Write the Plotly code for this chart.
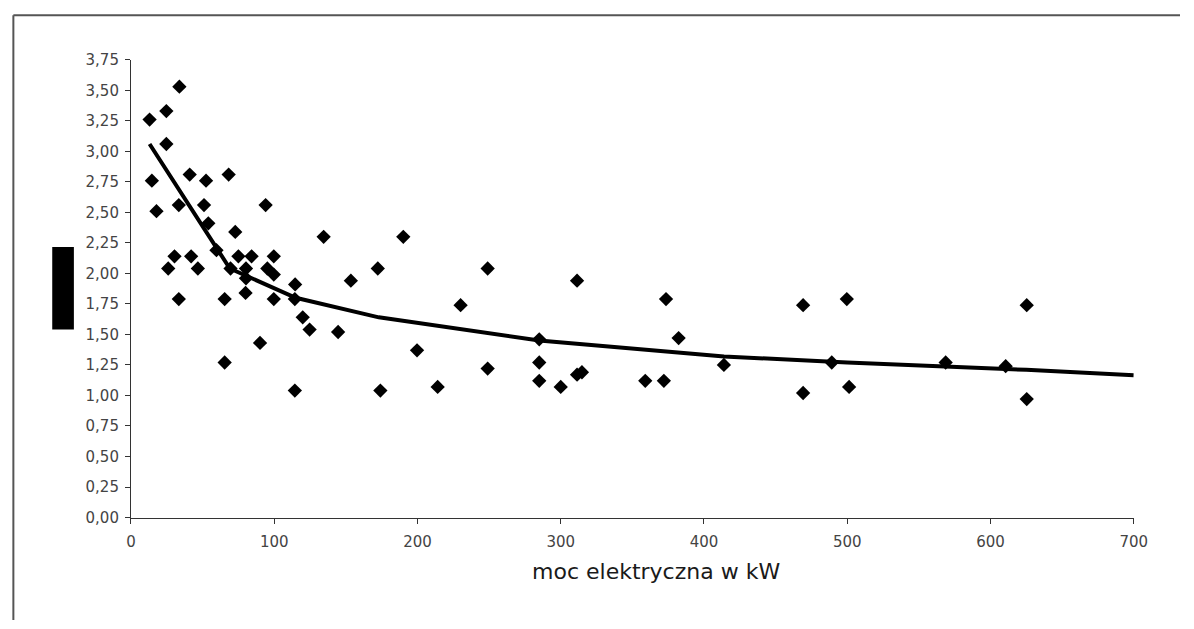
import plotly.graph_objects as go

# Installations: electrical power (kW) and the measured index value
power_kw = [
    13.0, 24.7, 33.8, 24.7, 14.6, 17.8, 33.4, 41.0, 52.4, 68.2,
    51.0, 54.0, 94.0, 72.8, 59.7, 30.4, 42.0, 26.0, 46.7, 69.5,
    75.0, 84.2, 99.7, 80.3, 95.2, 99.7, 80.3, 80.0, 114.6, 134.5,
    153.5, 172.3, 190.1, 33.4, 65.4, 99.7, 114.4, 119.9, 124.7, 144.6,
    90.1, 65.4, 114.4, 174.1, 249.0, 230.1, 311.4, 373.5, 382.3, 285.0,
    199.7, 249.0, 285.0, 285.0, 300.0, 311.4, 314.8, 359.0, 372.0, 413.9,
    214.1, 469.2, 499.7, 625.3, 489.2, 568.7, 610.6, 469.2, 501.3, 625.3,
]
index_value = [
    3.26, 3.33, 3.53, 3.06, 2.76, 2.51, 2.56, 2.81, 2.76, 2.81,
    2.56, 2.41, 2.56, 2.34, 2.19, 2.14, 2.14, 2.04, 2.04, 2.04,
    2.14, 2.14, 2.14, 2.04, 2.04, 1.99, 1.96, 1.84, 1.91, 2.30,
    1.94, 2.04, 2.30, 1.79, 1.79, 1.79, 1.79, 1.64, 1.54, 1.52,
    1.43, 1.27, 1.04, 1.04, 2.04, 1.74, 1.94, 1.79, 1.47, 1.46,
    1.37, 1.22, 1.27, 1.12, 1.07, 1.17, 1.19, 1.12, 1.12, 1.25,
    1.07, 1.74, 1.79, 1.74, 1.27, 1.27, 1.24, 1.02, 1.07, 0.97,
]

# Trend line vertices
trend_kw = [13, 69, 115, 173, 285, 414, 500, 625, 700]
trend_value = [3.06, 2.04, 1.80, 1.64, 1.45, 1.32, 1.27, 1.21, 1.165]

x_ticks = [0, 100, 200, 300, 400, 500, 600, 700]
y_ticks = [0.0, 0.25, 0.5, 0.75, 1.0, 1.25, 1.5, 1.75, 2.0, 2.25, 2.5, 2.75, 3.0, 3.25, 3.5, 3.75]

W, H = 1194, 629
FONT = "DejaVu Sans"

fig = go.Figure()
fig.add_trace(go.Scatter(
    x=power_kw, y=index_value, mode="markers",
    marker=dict(symbol="diamond", size=11, color="black", line=dict(width=0)),
    showlegend=False, hoverinfo="x+y",
))
fig.add_trace(go.Scatter(
    x=trend_kw, y=trend_value, mode="lines",
    line=dict(color="black", width=4),
    showlegend=False, hoverinfo="skip",
))

axis_common = dict(
    showgrid=False, zeroline=False, showline=True, linecolor="#333333", linewidth=1,
    ticks="outside", ticklen=5, tickcolor="#333333", tickwidth=1,
    tickfont=dict(family=FONT, size=15, color="#444444"),
)

fig.update_layout(
    width=W, height=H,
    margin=dict(l=0, r=0, t=0, b=0),
    paper_bgcolor="white", plot_bgcolor="white",
    separators=", ",
    xaxis=dict(
        range=[0, 700], tickvals=x_ticks, domain=[128 / W, 1147 / W],
        ticklabelstandoff=5, **axis_common,
    ),
    yaxis=dict(
        range=[0, 3.75], tickvals=y_ticks, tickformat=".2f",
        domain=[1 - 523.5 / H, 1 - 52.3 / H],
        ticklabelstandoff=3, **axis_common,
    ),
    annotations=[dict(
        text="moc elektryczna w kW", xref="paper", yref="paper",
        x=662 / W, y=1 - 579 / H, xanchor="center", yanchor="middle",
        showarrow=False, font=dict(family=FONT, size=22, color="#1a1a1a"),
    )],
    shapes=[
        # outer frame (top and left edges)
        dict(type="line", xref="paper", yref="paper", x0=8.5 / W, x1=1.0,
             y0=1 - 6.5 / H, y1=1 - 6.5 / H, line=dict(color="#555555", width=2)),
        dict(type="line", xref="paper", yref="paper", x0=8.5 / W, x1=8.5 / W,
             y0=0, y1=1 - 6.5 / H, line=dict(color="#555555", width=2)),
        # y-axis title block
        dict(type="rect", xref="paper", yref="paper", x0=48 / W, x1=70 / W,
             y0=1 - 330 / H, y1=1 - 245 / H, fillcolor="black", line=dict(width=0)),
    ],
)

# page body without default margins so the figure sits at the window origin
fig.write_html(
    "out.html",
    post_script="document.body.style.margin='0';document.body.style.overflow='hidden';",
)
